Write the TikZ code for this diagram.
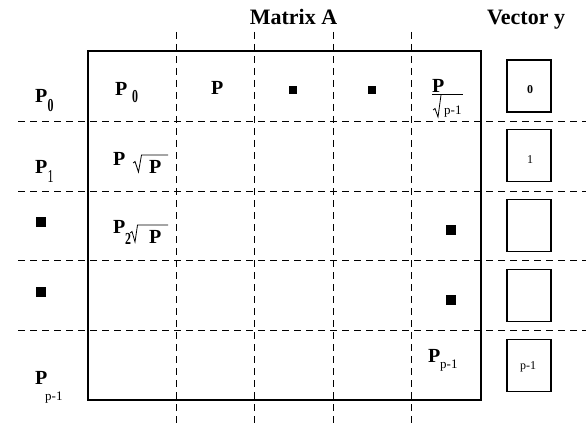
\documentclass[tikz,border=0pt]{standalone}
\usepackage{fontspec}
\setmainfont{Liberation Serif}
\begin{document}
\begin{tikzpicture}[x=1pt,y=-1pt,
  grid/.style={dash pattern=on 7pt off 5pt, line width=0.9pt},
  frame/.style={line width=1.1pt},
  big/.style={inner sep=0pt, anchor=base west, font=\fontsize{20}{20}\selectfont\bfseries},
  head/.style={inner sep=0pt, anchor=base, font=\fontsize{22}{22}\selectfont\bfseries},
  bsub/.style={inner sep=0pt, anchor=base west, font=\fontsize{14}{14}\selectfont\bfseries},
  rsub/.style={inner sep=0pt, anchor=base west, font=\fontsize{13}{13}\selectfont},
  small/.style={inner sep=0pt, anchor=base, font=\fontsize{12}{12}\selectfont},
  dot/.style={fill=black, minimum width=9.5pt, minimum height=9.5pt, inner sep=0pt},
  sdot/.style={fill=black, minimum width=8pt, minimum height=8pt, inner sep=0pt},
  vbox/.style={draw, line width=1.1pt, minimum width=44pt, minimum height=52pt, inner sep=0pt},
  rad/.style={line width=0.8pt, line join=miter}]
\useasboundingbox (0,0) rectangle (586,425);

% grid coordinates
\foreach \y [count=\i] in {121,191,260,330.5} {
  \coordinate (hl\i) at (18,\y);
  \coordinate (hr\i) at (586,\y);
  \draw[grid] (hl\i) -- (hr\i);
}
\foreach \x [count=\i] in {176,254.5,333,411} {
  \coordinate (vt\i) at (\x,32);
  \coordinate (vb\i) at (\x,425);
  \draw[grid] (vt\i) -- (vb\i);
}
\coordinate (fa) at (88,51);
\coordinate (fb) at (481,400);
\draw[frame] (fa) rectangle (fb);

% headings
\node[head] (mA) at (293.5,25) {Matrix A};
\node[head] (vy) at (526,25) {Vector y};

% vector y boxes
\node[vbox] (v0) at (529,86) {};
\node[vbox] (v1) at (529,155.5) {};
\node[vbox] (v2) at (529,225.5) {};
\node[vbox] (v3) at (529,295.5) {};
\node[vbox] (v4) at (529,365.5) {};
\node[small, font=\fontsize{12}{12}\selectfont\bfseries] (t0) at (530,94) {0};
\node[small] (t1) at (530,164) {1};
\node[small] (t4) at (528,369) {p-1};

% left labels
\node[big] (lp0) at (35,103) {P};
\node[bsub] (lp0s) at (47.5,112) {\scalebox{0.85}[1.3]{0}};
\node[big] (lp1) at (35,173) {P};
\node[bsub] (lp1s) at (47.5,182) {\scalebox{0.85}[1.3]{\mdseries 1}};
\node[dot] (ld1) at (41,222) {};
\node[dot] (ld2) at (41,292) {};
\node[big] (lpn) at (35,384) {P};
\node[rsub] (lpns) at (45,400) {p-1};

% row 1
\node[big] (a00) at (115,96) {P};
\node[bsub] (a00s) at (132,103) {\scalebox{0.85}[1.3]{0}};
\node[big] (a01) at (211,95) {P};
\node[sdot] (a02) at (293,90) {};
\node[sdot] (a03) at (372,90) {};
\node[big] (a04) at (432,93) {P};
\coordinate (a04l) at (432,94);
\coordinate (a04r) at (463,94);
\draw[rad] (a04l) -- (a04r);
\draw[rad] (433,110) -- (435,108.5) -- (438,117) -- (441,95);
\node[rsub] (a04s) at (444,115) {p-1};

% row 2
\node[big] (a10) at (113,165) {P};
\draw[rad] (133,163) -- (135,161.5) -- (138.5,172) -- (141.5,155) -- (168,155);
\node[big] (a10r) at (149,173) {P};

% row 3
\node[big] (a20) at (113,233) {P};
\node[bsub] (a20s) at (125,244) {\scalebox{0.85}[1.2]{2}};
\draw[rad] (130,233) -- (132,231.5) -- (135,242) -- (137.5,225) -- (168,225);
\node[big] (a20r) at (149,243) {P};
\node[dot] (a24) at (451,230) {};

% row 4
\node[dot] (a34) at (451,300) {};

% row 5
\node[big] (a44) at (428,362) {P};
\node[rsub] (a44s) at (440,368) {p-1};
\end{tikzpicture}
\end{document}
